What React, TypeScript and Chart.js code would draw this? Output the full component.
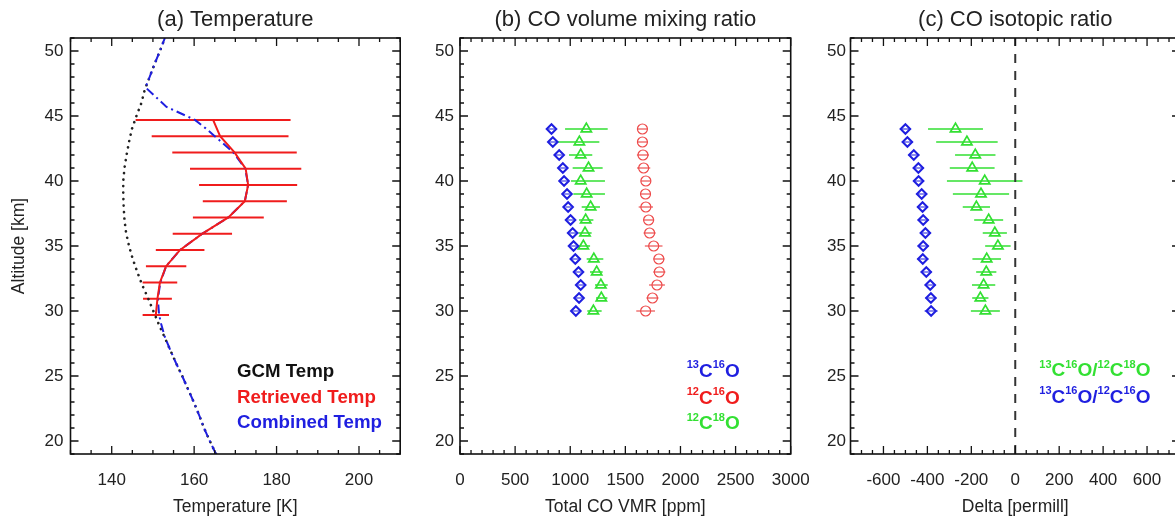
import React, { useEffect, useRef } from "react";
import { Chart, registerables } from "chart.js";

Chart.register(...registerables);

const FONT = "'Liberation Sans', Arial, Helvetica, sans-serif";
const TEXT = "#222222";
const BLACK = "#111111";
const BLUE = "#1f1fe0";
const RED = "#f01c1c";
const GREEN = "#33e033";
const RED_LIGHT = "#ee4a4a";

// ---------- Panel (a) Temperature ----------
const gcmAlt = [19, 20, 21, 22, 23, 24, 25, 26, 27, 28, 29, 30, 31, 32, 33, 34, 35, 36, 37, 38, 39, 40, 41, 42, 43, 44, 45, 46, 47, 48, 49, 50, 51];
const gcmTemp = [165.3, 163.8, 162.4, 161.2, 159.9, 158.5, 157.1, 155.6, 154.2, 152.8, 151.4, 150.1, 148.8, 147.4, 146.2, 145.1, 144.2, 143.5, 143.1, 142.9, 142.8, 142.8, 143.1, 143.6, 144.2, 144.9, 146.0, 147.2, 148.0, 149.2, 150.4, 151.7, 152.9];

const retAlt = [29.7, 30.95, 32.2, 33.45, 34.7, 35.95, 37.2, 38.45, 39.7, 40.95, 42.2, 43.45, 44.7];
const retTemp = [150.7, 151.1, 151.7, 153.2, 156.6, 162.0, 168.3, 172.3, 173.1, 172.5, 169.8, 166.3, 164.6];
const retErr = [3.2, 3.5, 4.2, 4.9, 5.9, 7.2, 8.6, 10.2, 11.9, 13.5, 15.1, 16.6, 18.8];

const combAlt = [19, 20, 21, 22, 23, 24, 25, 26, 27, 28, 29, 29.7, 30.95, 32.2, 33.45, 34.7, 35.95, 37.2, 38.45, 39.7, 40.95, 42.2, 43.45, 44.05, 44.7, 45.7, 47.2, 48, 49, 50, 51];
const combTemp = [165.3, 163.8, 162.4, 161.2, 159.9, 158.5, 157.1, 155.6, 154.2, 152.9, 152.0, 151.5, 151.2, 151.8, 153.2, 156.6, 162.0, 168.3, 172.3, 173.1, 172.4, 169.5, 165.0, 162.8, 160.2, 153.3, 148.2, 149.2, 150.4, 151.7, 152.9];

// ---------- Panel (b) CO VMR ----------
const isoAlt = [30, 31, 32, 33, 34, 35, 36, 37, 38, 39, 40, 41, 42, 43, 44];
const vmr13C16O = [1051, 1080, 1095, 1075, 1046, 1030, 1022, 1003, 981, 971, 944, 933, 900, 842, 830];
const err13C16O = [30, 30, 30, 30, 30, 30, 30, 30, 25, 30, 30, 30, 30, 45, 30];
const vmr12C16O = [1684, 1746, 1787, 1808, 1804, 1757, 1720, 1711, 1686, 1683, 1686, 1666, 1660, 1655, 1655];
const err12C16O = [85, 55, 72, 55, 50, 80, 55, 50, 65, 45, 45, 60, 55, 45, 45];
const vmr12C18O = [1210, 1282, 1278, 1240, 1214, 1119, 1134, 1140, 1185, 1149, 1095, 1166, 1095, 1083, 1146];
const err12C18OMinus = [55, 48, 53, 61, 65, 55, 60, 60, 81, 121, 88, 144, 106, 206, 193];
const err12C18OPlus = [75, 55, 62, 54, 86, 61, 60, 70, 85, 166, 220, 128, 105, 181, 194];

// ---------- Panel (c) isotopic ratio ----------
const delta13_18 = [-136, -159, -144, -132, -130, -79, -93, -121, -177, -156, -139, -196, -182, -220, -272];
const errDelta13_18 = [66, 37, 53, 46, 65, 58, 55, 66, 62, 128, 172, 102, 92, 140, 125];
const delta13_12 = [-383, -384, -387, -405, -421, -419, -409, -419, -422, -426, -440, -441, -462, -491, -500];
const errDelta13_12 = [30, 25, 25, 25, 25, 25, 25, 25, 25, 25, 25, 25, 25, 25, 25];
const zeroDelta = 0;

// ---------- Axes ----------
const altRange = [19, 51];
const altTicks = [20, 25, 30, 35, 40, 45, 50];
const tempRange = [130, 210];
const tempTicks = [140, 160, 180, 200];
const vmrRange = [0, 3000];
const vmrTicks = [0, 500, 1000, 1500, 2000, 2500, 3000];
const deltaRange = [-750, 750];
const deltaTicks = [-600, -400, -200, 0, 200, 400, 600];

const titles = ["(a) Temperature", "(b) CO volume mixing ratio", "(c) CO isotopic ratio"];
const xTitles = ["Temperature [K]", "Total CO VMR [ppm]", "Delta [permill]"];
const yTitle = "Altitude [km]";
const legendA = ["GCM Temp", "Retrieved Temp", "Combined Temp"];
const sp13C16O = [["13", "C"], ["16", "O"]];
const sp12C16O = [["12", "C"], ["16", "O"]];
const sp12C18O = [["12", "C"], ["18", "O"]];

const pts = (xs: number[], ys: number[]) => xs.map((v, i) => ({ x: v, y: ys[i] }));

type Seg = { t: string; sup?: boolean };
type LegendItem = { segs: Seg[]; color: string; x: number; y: number; size: number; supSize?: number };

const speciesSegs = (parts: string[][][]): Seg[] => {
  const out: Seg[] = [];
  parts.forEach((sp, k) => {
    if (k > 0) out.push({ t: "/" });
    sp.forEach(([s, m]) => {
      out.push({ t: s, sup: true });
      out.push({ t: m });
    });
  });
  return out;
};

const errorBarPlugin = {
  id: "errbars",
  beforeDatasetsDraw(chart: any) {
    const { ctx, chartArea: ca, scales } = chart;
    const x = scales.x;
    const y = scales.y;
    ctx.save();
    ctx.beginPath();
    ctx.rect(ca.left, ca.top, ca.width, ca.height);
    ctx.clip();
    chart.data.datasets.forEach((ds: any) => {
      if (!ds.errMinus) return;
      ctx.strokeStyle = ds.errColor;
      ctx.lineWidth = ds.errWidth;
      ctx.lineCap = "butt";
      ctx.beginPath();
      ds.data.forEach((p: any, i: number) => {
        const py = y.getPixelForValue(p.y);
        ctx.moveTo(x.getPixelForValue(p.x - ds.errMinus[i]), py);
        ctx.lineTo(x.getPixelForValue(p.x + ds.errPlus[i]), py);
      });
      ctx.stroke();
    });
    ctx.restore();
  },
};

function makeFramePlugin(cfg: any) {
  return {
    id: "idlframe",
    afterDraw(chart: any) {
      const { ctx, chartArea: ca, scales } = chart;
      const xs = scales.x;
      const ys = scales.y;
      ctx.save();
      ctx.strokeStyle = BLACK;
      ctx.lineWidth = 1.3;
      ctx.lineCap = "butt";
      ctx.beginPath();
      const isMajor = (v: number, step: number) => Math.abs(v / step - Math.round(v / step)) < 1e-6;
      for (let i = Math.ceil(xs.min / cfg.xMinor - 1e-9); i * cfg.xMinor <= xs.max + 1e-9; i++) {
        const v = i * cfg.xMinor;
        const px = xs.getPixelForValue(v);
        const len = isMajor(v, cfg.xMajor) ? 8 : 4;
        ctx.moveTo(px, ca.bottom);
        ctx.lineTo(px, ca.bottom - len);
        ctx.moveTo(px, ca.top);
        ctx.lineTo(px, ca.top + len);
      }
      for (let i = Math.ceil(ys.min - 1e-9); i <= ys.max + 1e-9; i++) {
        const v = i;
        const py = ys.getPixelForValue(v);
        const len = isMajor(v, 5) ? 8 : 4;
        ctx.moveTo(ca.left, py);
        ctx.lineTo(ca.left + len, py);
        ctx.moveTo(ca.right, py);
        ctx.lineTo(ca.right - len, py);
      }
      ctx.stroke();
      ctx.lineWidth = 1.6;
      ctx.strokeRect(ca.left, ca.top, ca.width, ca.height);

      ctx.fillStyle = TEXT;
      ctx.font = `22px ${FONT}`;
      ctx.textAlign = "center";
      ctx.textBaseline = "alphabetic";
      ctx.fillText(cfg.title, (ca.left + ca.right) / 2, 26);

      ctx.textAlign = "left";
      (cfg.legend as LegendItem[]).forEach((item) => {
        let x = item.x - cfg.canvasLeft;
        ctx.fillStyle = item.color;
        item.segs.forEach((seg) => {
          ctx.font = `bold ${seg.sup ? item.supSize || 11 : item.size}px ${FONT}`;
          ctx.fillText(seg.t, x, seg.sup ? item.y - 8.5 : item.y);
          x += ctx.measureText(seg.t).width;
        });
      });
      ctx.restore();
    },
  };
}

function buildConfig(cfg: any) {
  const tickFont = { family: FONT, size: 17 };
  const titleFont = { family: FONT, size: 17.5 };
  return {
    type: "scatter",
    data: { datasets: cfg.datasets },
    plugins: [errorBarPlugin, makeFramePlugin(cfg)],
    options: {
      responsive: false,
      maintainAspectRatio: false,
      animation: false,
      events: [],
      layout: { padding: { left: 0, right: cfg.padRight, top: 38, bottom: 0 } },
      plugins: {
        legend: { display: false },
        tooltip: { enabled: false },
        title: { display: false },
      },
      scales: {
        x: {
          type: "linear",
          min: cfg.xRange[0],
          max: cfg.xRange[1],
          afterBuildTicks: (s: any) => {
            s.ticks = cfg.xTicks.map((v: number) => ({ value: v }));
          },
          afterFit: (s: any) => {
            s.height = 73;
          },
          grid: { display: false, drawTicks: false },
          border: { display: false },
          ticks: {
            autoSkip: false,
            maxRotation: 0,
            padding: 16,
            font: tickFont,
            color: TEXT,
            callback: (v: any) => String(v),
          },
          title: {
            display: true,
            text: cfg.xTitle,
            font: titleFont,
            color: TEXT,
            padding: { top: 0, bottom: 9.5 },
          },
        },
        y: {
          type: "linear",
          min: altRange[0],
          max: altRange[1],
          afterBuildTicks: (s: any) => {
            s.ticks = altTicks.map((v) => ({ value: v }));
          },
          afterFit: (s: any) => {
            s.width = cfg.yAxisW;
          },
          grid: { display: false, drawTicks: false },
          border: { display: false },
          ticks: {
            autoSkip: false,
            padding: cfg.yPad,
            font: tickFont,
            color: TEXT,
            callback: (v: any) => String(v),
          },
          title: {
            display: !!cfg.yTitle,
            text: cfg.yTitle || "",
            font: titleFont,
            color: TEXT,
            padding: { top: 9, bottom: 0 },
          },
        },
      },
    },
  };
}

const diamond = (color: string) => ({
  pointStyle: "rectRot",
  pointRadius: 4.8,
  pointBorderWidth: 2,
  pointBorderColor: color,
  pointBackgroundColor: "rgba(0,0,0,0)",
});
const triangle = (color: string) => ({
  pointStyle: "triangle",
  pointRadius: 5.9,
  pointBorderWidth: 1.7,
  pointBorderColor: color,
  pointBackgroundColor: "rgba(0,0,0,0)",
});

const cfgA = {
  canvasLeft: 0,
  canvasW: 440,
  yAxisW: 70.5,
  padRight: 39.8,
  yPad: 7,
  xRange: tempRange,
  xTicks: tempTicks,
  xMajor: 20,
  xMinor: 5,
  xTitle: xTitles[0],
  yTitle: yTitle,
  title: titles[0],
  legend: [
    { segs: [{ t: legendA[0] }], color: BLACK, x: 237, y: 376.7, size: 18.7 },
    { segs: [{ t: legendA[1] }], color: RED, x: 237, y: 403.3, size: 18.7 },
    { segs: [{ t: legendA[2] }], color: BLUE, x: 237, y: 428.3, size: 18.7 },
  ],
  datasets: [
    {
      data: pts(retTemp, retAlt),
      showLine: true,
      borderColor: RED,
      borderWidth: 2,
      pointRadius: 0,
      errMinus: retErr,
      errPlus: retErr,
      errColor: RED,
      errWidth: 2,
      order: 0,
    },
    {
      data: pts(combTemp, combAlt),
      showLine: true,
      borderColor: BLUE,
      borderWidth: 2,
      borderDash: [9, 4, 2, 4],
      pointRadius: 0,
      order: 1,
    },
    {
      data: pts(gcmTemp, gcmAlt),
      showLine: true,
      borderColor: "#222222",
      borderWidth: 2.6,
      borderDash: [0.1, 6.4],
      borderCapStyle: "round",
      pointRadius: 0,
      order: 2,
    },
  ],
};

const cfgB = {
  canvasLeft: 410,
  canvasW: 421,
  yAxisW: 50,
  padRight: 40.3,
  yPad: 6,
  xRange: vmrRange,
  xTicks: vmrTicks,
  xMajor: 500,
  xMinor: 100,
  xTitle: xTitles[1],
  yTitle: "",
  title: titles[1],
  legend: [
    { segs: speciesSegs([sp13C16O]), color: BLUE, x: 686.7, y: 376.5, size: 19 },
    { segs: speciesSegs([sp12C16O]), color: RED, x: 686.7, y: 403.5, size: 19 },
    { segs: speciesSegs([sp12C18O]), color: GREEN, x: 686.7, y: 429, size: 19 },
  ],
  datasets: [
    {
      data: pts(vmr13C16O, isoAlt),
      showLine: false,
      ...diamond(BLUE),
      errMinus: err13C16O,
      errPlus: err13C16O,
      errColor: BLUE,
      errWidth: 1.2,
      order: 0,
    },
    {
      data: pts(vmr12C18O, isoAlt),
      showLine: false,
      ...triangle(GREEN),
      errMinus: err12C18OMinus,
      errPlus: err12C18OPlus,
      errColor: GREEN,
      errWidth: 1.3,
      order: 1,
    },
    {
      data: pts(vmr12C16O, isoAlt),
      showLine: false,
      pointStyle: "circle",
      pointRadius: 5,
      pointBorderWidth: 1.2,
      pointBorderColor: RED_LIGHT,
      pointBackgroundColor: "rgba(0,0,0,0)",
      errMinus: err12C16O,
      errPlus: err12C16O,
      errColor: "#e83030",
      errWidth: 1.2,
      order: 2,
    },
  ],
};

const cfgC = {
  canvasLeft: 800,
  canvasW: 420,
  yAxisW: 50.5,
  padRight: 40,
  yPad: 4.5,
  xRange: deltaRange,
  xTicks: deltaTicks,
  xMajor: 200,
  xMinor: 50,
  xTitle: xTitles[2],
  yTitle: "",
  title: titles[2],
  legend: [
    { segs: speciesSegs([sp13C16O, sp12C18O]), color: GREEN, x: 1039.3, y: 376, size: 19 },
    { segs: speciesSegs([sp13C16O, sp12C16O]), color: BLUE, x: 1039.3, y: 402.7, size: 19 },
  ],
  datasets: [
    {
      data: pts(delta13_12, isoAlt),
      showLine: false,
      ...diamond(BLUE),
      errMinus: errDelta13_12,
      errPlus: errDelta13_12,
      errColor: BLUE,
      errWidth: 1.2,
      order: 0,
    },
    {
      data: pts(delta13_18, isoAlt),
      showLine: false,
      ...triangle(GREEN),
      errMinus: errDelta13_18,
      errPlus: errDelta13_18,
      errColor: GREEN,
      errWidth: 1.3,
      order: 1,
    },
    {
      data: pts([zeroDelta, zeroDelta], altRange),
      showLine: true,
      borderColor: "#333333",
      borderWidth: 2,
      borderDash: [9, 8],
      pointRadius: 0,
      order: 2,
    },
  ],
};

function Panel({ cfg }: { cfg: any }) {
  const ref = useRef<HTMLCanvasElement | null>(null);
  useEffect(() => {
    if (!ref.current) return;
    const chart = new Chart(ref.current, buildConfig(cfg) as any);
    return () => chart.destroy();
  }, [cfg]);
  return (
    <canvas
      ref={ref}
      width={cfg.canvasW}
      height={527}
      style={{ position: "absolute", left: cfg.canvasLeft, top: 0, width: cfg.canvasW, height: 527 }}
    />
  );
}

export default function App() {
  return (
    <div
      style={{
        position: "fixed",
        left: 0,
        top: 0,
        width: 1175,
        height: 527,
        overflow: "hidden",
        background: "#ffffff",
      }}
    >
      <Panel cfg={cfgA} />
      <Panel cfg={cfgB} />
      <Panel cfg={cfgC} />
    </div>
  );
}
